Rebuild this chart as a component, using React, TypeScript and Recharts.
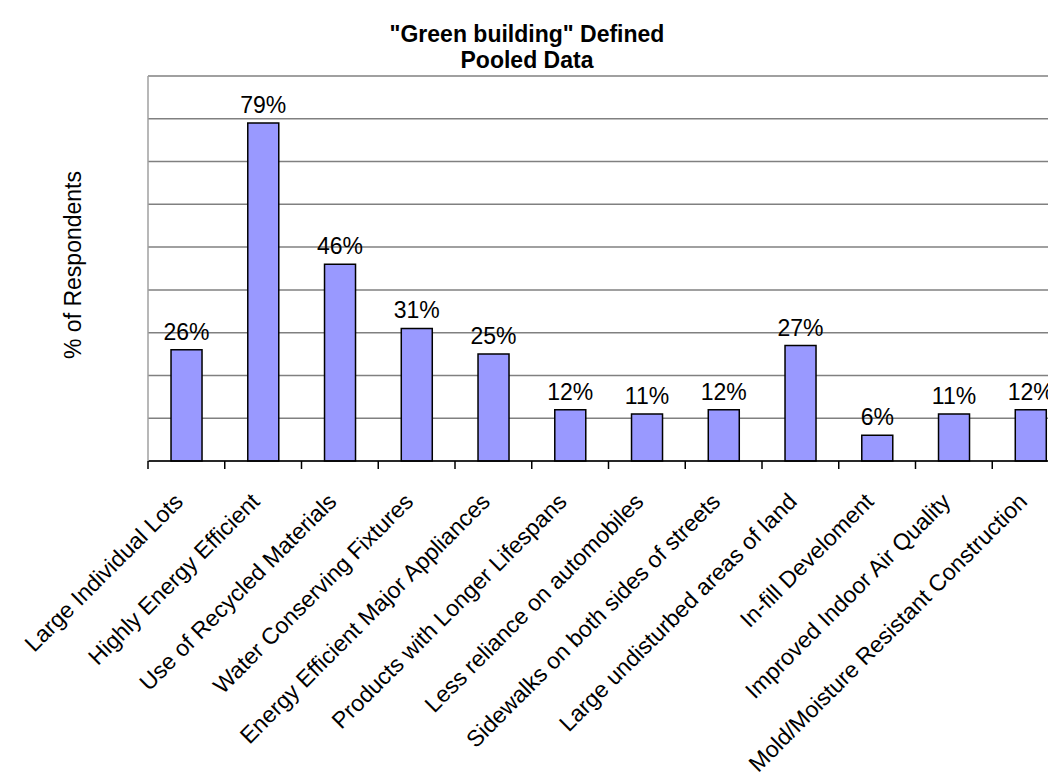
import React from 'react';
import { BarChart, Bar, XAxis, YAxis, CartesianGrid, LabelList } from 'recharts';

const categories = [
  'Large Individual Lots',
  'Highly Energy Efficient',
  'Use of Recycled Materials',
  'Water Conserving Fixtures',
  'Energy Efficient Major Appliances',
  'Products with Longer Lifespans',
  'Less reliance on automobiles',
  'Sidewalks on both sides of streets',
  'Large undisturbed areas of land',
  'In-fill Develoment',
  'Improved Indoor Air Quality',
  'Mold/Moisture Resistant Construction',
];
const percents = [26, 79, 46, 31, 25, 12, 11, 12, 27, 6, 11, 12];
const yTicks = [0, 10, 20, 30, 40, 50, 60, 70, 80, 90];
const titleLines = ['"Green building" Defined', 'Pooled Data'];
const yLabel = '% of Respondents';

const data = categories.map((name, i) => ({ name, value: percents[i] }));

const FONT = '"Liberation Sans", Arial, sans-serif';

function CategoryTick(props: any) {
  const { x, y, payload } = props;
  const half = payload && payload.offset ? payload.offset : 38.4;
  return (
    <g>
      <line x1={x - half} y1={y} x2={x - half} y2={y + 8} stroke="#000" strokeWidth={1.5} />
      <text
        x={0}
        y={0}
        transform={`translate(${x - 2},${y + 42}) rotate(-45)`}
        textAnchor="end"
        fontSize={23}
        fontFamily={FONT}
        fill="#000"
      >
        {payload.value}
      </text>
    </g>
  );
}

// y axis has no labels, but the grid still needs its ticks
const NoTick = () => <g />;

export default function App() {
  return (
    <div style={{ position: 'relative', width: 1048, height: 772, overflow: 'hidden', background: '#fff' }}>
      <BarChart
        width={1100}
        height={772}
        data={data}
        margin={{ top: 68, right: 39, bottom: 0, left: 80 }}
        barCategoryGap="30%"
      >
        <CartesianGrid vertical={false} stroke="#808080" strokeWidth={1.5} />
        <XAxis
          dataKey="name"
          interval={0}
          height={319}
          tickSize={0}
          tickMargin={0}
          tickLine={false}
          axisLine={{ stroke: '#000', strokeWidth: 1.5 }}
          tick={<CategoryTick />}
        />
        <YAxis
          width={60}
          domain={[0, 90]}
          ticks={yTicks}
          interval={0}
          tick={<NoTick />}
          tickLine={false}
          axisLine={{ stroke: '#a0a0a0', strokeWidth: 1.5 }}
        />
        <Bar dataKey="value" fill="#9999FF" stroke="#000" strokeWidth={1.5} isAnimationActive={false}>
          <LabelList
            dataKey="value"
            position="top"
            offset={10}
            formatter={(v: any) => `${v}%`}
            style={{ fontSize: 23, fontFamily: FONT, fill: '#000' }}
          />
        </Bar>
      </BarChart>
      <svg
        width={1048}
        height={772}
        style={{ position: 'absolute', left: 0, top: 0, pointerEvents: 'none' }}
      >
        <text x={519} y={34} textAnchor="middle" fontSize={23} fontWeight="bold" fontFamily={FONT} fill="#000">
          {titleLines[0]}
        </text>
        <text x={519} y={60} textAnchor="middle" fontSize={23} fontWeight="bold" fontFamily={FONT} fill="#000">
          {titleLines[1]}
        </text>
        <text
          x={0}
          y={0}
          transform="translate(73,257) rotate(-90)"
          textAnchor="middle"
          fontSize={23}
          fontFamily={FONT}
          fill="#000"
        >
          {yLabel}
        </text>
      </svg>
    </div>
  );
}
